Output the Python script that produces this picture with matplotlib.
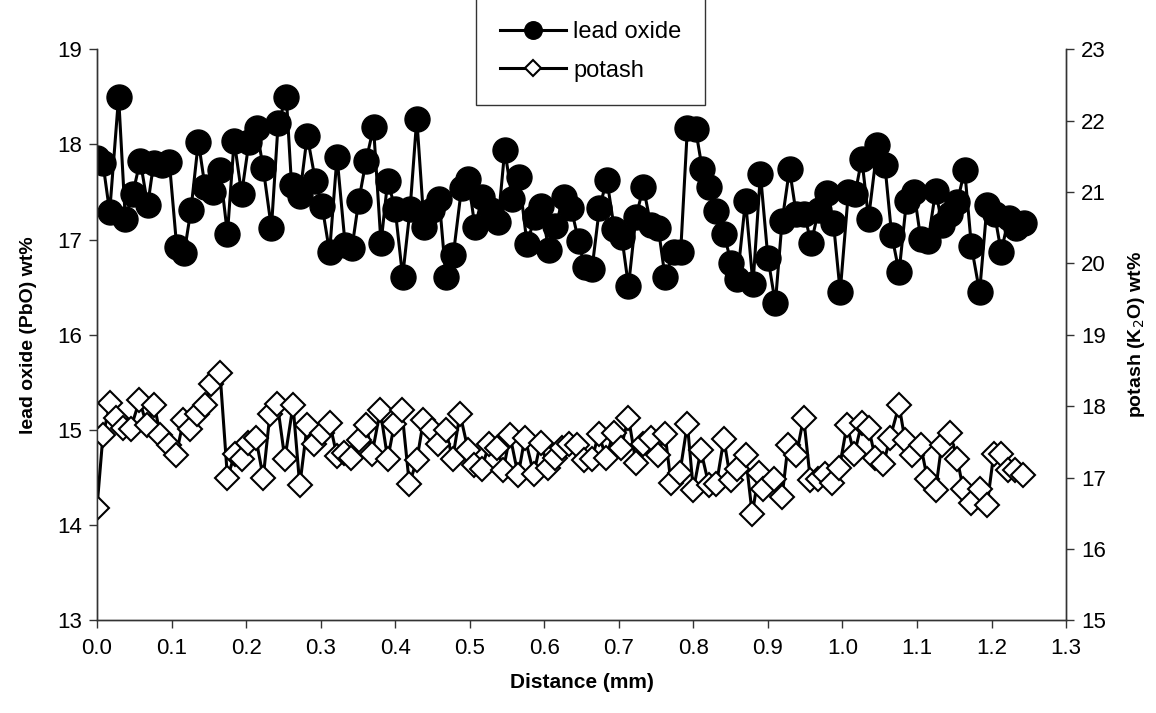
import matplotlib.pyplot as plt

plt.rcParams['font.family'] = ['Liberation Sans', 'DejaVu Sans']

# lead oxide (PbO) wt%, left axis
lead_x = [0.000, 0.008, 0.017, 0.029, 0.038, 0.048, 0.058, 0.068, 0.076, 0.087,
          0.097, 0.107, 0.117, 0.126, 0.136, 0.145, 0.155, 0.165, 0.175, 0.184,
          0.194, 0.204, 0.214, 0.223, 0.234, 0.243, 0.254, 0.261, 0.272, 0.282,
          0.293, 0.302, 0.312, 0.322, 0.333, 0.342, 0.351, 0.361, 0.371, 0.381,
          0.390, 0.400, 0.410, 0.420, 0.429, 0.439, 0.449, 0.459, 0.468, 0.478,
          0.489, 0.498, 0.507, 0.517, 0.528, 0.538, 0.547, 0.557, 0.566, 0.577,
          0.587, 0.596, 0.606, 0.615, 0.626, 0.636, 0.646, 0.654, 0.664, 0.674,
          0.684, 0.694, 0.704, 0.713, 0.723, 0.733, 0.743, 0.753, 0.762, 0.774,
          0.783, 0.792, 0.803, 0.812, 0.821, 0.831, 0.841, 0.851, 0.859, 0.870,
          0.880, 0.890, 0.900, 0.910, 0.919, 0.929, 0.938, 0.949, 0.958, 0.968,
          0.979, 0.988, 0.997, 1.008, 1.017, 1.026, 1.035, 1.047, 1.057, 1.066,
          1.076, 1.086, 1.096, 1.105, 1.115, 1.125, 1.134, 1.144, 1.154, 1.164,
          1.173, 1.184, 1.194, 1.204, 1.213, 1.223, 1.233, 1.243]
lead_y = [17.86, 17.80, 17.29, 18.50, 17.22, 17.48, 17.83, 17.36, 17.80, 17.78,
          17.82, 16.92, 16.86, 17.31, 18.03, 17.55, 17.50, 17.73, 17.06, 18.04,
          17.48, 18.03, 18.17, 17.75, 17.12, 18.22, 18.50, 17.57, 17.46, 18.09,
          17.62, 17.35, 16.87, 17.87, 16.94, 16.91, 17.40, 17.83, 18.18, 16.96,
          17.62, 17.32, 16.61, 17.32, 18.27, 17.13, 17.31, 17.43, 16.61, 16.84,
          17.54, 17.64, 17.13, 17.45, 17.31, 17.18, 17.94, 17.43, 17.66, 16.95,
          17.24, 17.35, 16.89, 17.14, 17.45, 17.33, 16.99, 16.71, 16.69, 17.33,
          17.63, 17.11, 17.03, 16.51, 17.24, 17.55, 17.15, 17.12, 16.61, 16.87,
          16.87, 18.17, 18.16, 17.74, 17.55, 17.30, 17.06, 16.75, 16.59, 17.41,
          16.53, 17.69, 16.81, 16.33, 17.19, 17.74, 17.27, 17.27, 16.96, 17.31,
          17.49, 17.17, 16.45, 17.50, 17.48, 17.85, 17.22, 17.99, 17.78, 17.05,
          16.66, 17.41, 17.50, 17.01, 16.99, 17.51, 17.15, 17.27, 17.39, 17.73,
          16.93, 16.45, 17.36, 17.27, 16.87, 17.23, 17.12, 17.17]

# potash (K2O) wt%, right axis
potash_x = [0.000, 0.008, 0.018, 0.026, 0.035, 0.045, 0.057, 0.067, 0.077, 0.085,
            0.096, 0.106, 0.116, 0.125, 0.134, 0.145, 0.153, 0.165, 0.175, 0.185,
            0.194, 0.203, 0.213, 0.223, 0.232, 0.242, 0.252, 0.263, 0.272, 0.282,
            0.291, 0.302, 0.312, 0.322, 0.331, 0.341, 0.351, 0.361, 0.369, 0.380,
            0.390, 0.399, 0.409, 0.419, 0.429, 0.438, 0.449, 0.458, 0.468, 0.477,
            0.487, 0.498, 0.506, 0.516, 0.526, 0.537, 0.545, 0.554, 0.565, 0.574,
            0.586, 0.595, 0.605, 0.614, 0.624, 0.633, 0.644, 0.653, 0.664, 0.673,
            0.683, 0.693, 0.703, 0.713, 0.723, 0.733, 0.743, 0.752, 0.762, 0.770,
            0.782, 0.792, 0.800, 0.810, 0.821, 0.831, 0.841, 0.850, 0.859, 0.870,
            0.879, 0.888, 0.894, 0.908, 0.919, 0.927, 0.938, 0.948, 0.957, 0.967,
            0.977, 0.986, 0.996, 1.006, 1.016, 1.026, 1.035, 1.044, 1.055, 1.064,
            1.076, 1.084, 1.093, 1.105, 1.114, 1.125, 1.133, 1.144, 1.154, 1.162,
            1.173, 1.184, 1.194, 1.203, 1.213, 1.222, 1.231, 1.242]
potash_y = [16.58, 17.59, 18.05, 17.84, 17.70, 17.68, 18.08, 17.73, 18.01, 17.59,
            17.45, 17.31, 17.80, 17.68, 17.89, 18.01, 18.31, 18.47, 17.00, 17.33,
            17.26, 17.49, 17.56, 17.00, 17.89, 18.03, 17.26, 18.01, 16.89, 17.73,
            17.47, 17.63, 17.77, 17.30, 17.35, 17.28, 17.52, 17.73, 17.33, 17.94,
            17.26, 17.75, 17.94, 16.91, 17.24, 17.80, 17.66, 17.47, 17.66, 17.26,
            17.89, 17.38, 17.17, 17.12, 17.47, 17.42, 17.10, 17.59, 17.03, 17.56,
            17.05, 17.49, 17.14, 17.28, 17.42, 17.47, 17.45, 17.24, 17.26, 17.61,
            17.28, 17.63, 17.42, 17.84, 17.21, 17.47, 17.56, 17.31, 17.61, 16.93,
            17.07, 17.75, 16.82, 17.38, 16.89, 16.91, 17.54, 16.96, 17.12, 17.31,
            16.49, 17.07, 16.84, 16.98, 16.73, 17.45, 17.31, 17.84, 16.96, 16.98,
            17.05, 16.93, 17.14, 17.73, 17.33, 17.77, 17.70, 17.28, 17.19, 17.56,
            18.01, 17.52, 17.31, 17.45, 16.98, 16.82, 17.45, 17.63, 17.26, 16.84,
            16.65, 16.84, 16.61, 17.33, 17.33, 17.10, 17.10, 17.03]

x_ticks = [0.0, 0.1, 0.2, 0.3, 0.4, 0.5, 0.6, 0.7, 0.8, 0.9, 1.0, 1.1, 1.2, 1.3]
left_ticks = [13, 14, 15, 16, 17, 18, 19]
right_ticks = [15, 16, 17, 18, 19, 20, 21, 22, 23]

fig = plt.figure(figsize=(11.56, 7.13), dpi=100)
ax = fig.add_axes([0.0839, 0.130, 0.8383, 0.801])
ax2 = ax.twinx()

l1, = ax.plot(lead_x, lead_y, color='black', lw=2.2, marker='o',
              markersize=18, markerfacecolor='black', markeredgecolor='black',
              label='lead oxide')
l2, = ax2.plot(potash_x, potash_y, color='black', lw=2.2, marker='D',
               markersize=12, markerfacecolor='white', markeredgecolor='black',
               markeredgewidth=1.5, label='potash')

ax.set_xlim(0, 1.3)
ax.set_ylim(13, 19)
ax2.set_ylim(15, 23)
ax.set_xticks(x_ticks)
ax.set_xticklabels([f'{t:.1f}' for t in x_ticks])
ax.set_yticks(left_ticks)
ax2.set_yticks(right_ticks)

for a in (ax, ax2):
    a.spines['top'].set_visible(False)
    for s in a.spines.values():
        s.set_linewidth(1.0)
        s.set_color('#333333')
    a.tick_params(direction='out', length=6, width=1.0, labelsize=16,
                  color='#333333', pad=5)
ax.tick_params(axis='x', pad=7)

ax.set_xlabel('Distance (mm)', fontsize=15, fontweight='bold', labelpad=10)
ax.set_ylabel('lead oxide (PbO) wt%', fontsize=14, fontweight='bold', labelpad=14)
ax2.set_ylabel('potash (K$_2$O) wt%', fontsize=14, fontweight='bold', labelpad=14)

fig.legend(handles=[l1, l2], loc='upper center', bbox_to_anchor=(0.511, 1.02),
           fontsize=17, frameon=True, fancybox=False, edgecolor='black',
           handlelength=2.8, handletextpad=0.3, borderpad=1.0, labelspacing=0.7,
           markerscale=0.7)

fig.savefig('out.png', dpi=100)
